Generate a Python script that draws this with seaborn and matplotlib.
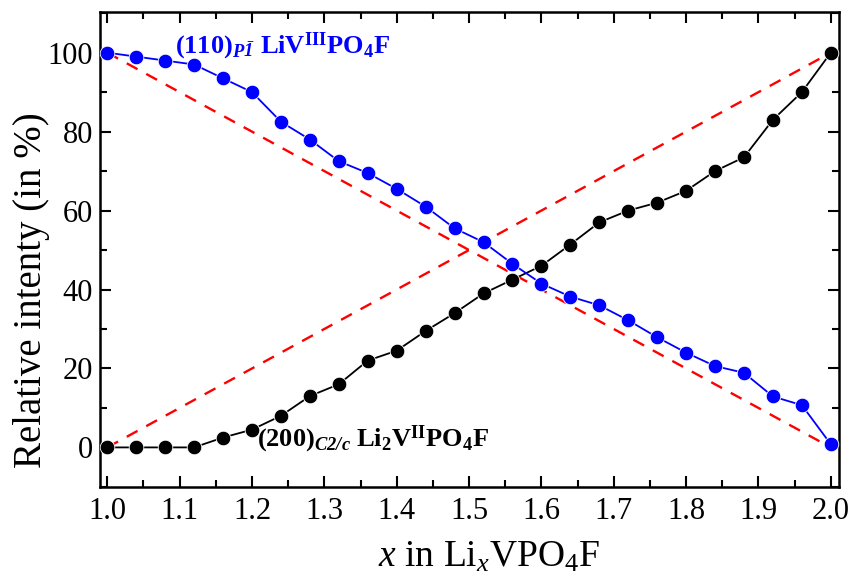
import numpy as np
import pandas as pd
import matplotlib
matplotlib.use("Agg")
import matplotlib.pyplot as plt
import seaborn as sns
from matplotlib.ticker import MultipleLocator

x_vals = [1.00, 1.04, 1.08, 1.12, 1.16, 1.20, 1.24, 1.28, 1.32, 1.36, 1.40, 1.44, 1.48,
          1.52, 1.56, 1.60, 1.64, 1.68, 1.72, 1.76, 1.80, 1.84, 1.88, 1.92, 1.96, 2.00]
p1_intensity = [100, 99, 98, 97, 93.5, 90, 82.5, 78, 72.5, 69.5, 65.5, 61, 55.5,
                52, 46.5, 41.5, 38.2, 36.0, 32.2, 27.9, 24.0, 20.6, 18.9, 12.9, 10.7, 0.8]
c2c_intensity = [0, 0, 0, 0, 2.5, 4.5, 8, 13, 16, 22, 24.5, 29.5, 34,
                 39, 42.5, 46, 51.4, 57, 60, 62, 65, 70, 73.5, 83, 90, 100]
ideal_x = [1.0, 2.0]
ideal_down = [100, 0]
ideal_up = [0, 100]
x_ticks = [1.0, 1.1, 1.2, 1.3, 1.4, 1.5, 1.6, 1.7, 1.8, 1.9, 2.0]
x_tick_labels = ["1.0", "1.1", "1.2", "1.3", "1.4", "1.5", "1.6", "1.7", "1.8", "1.9", "2.0"]

sns.set_theme(style="white")
plt.rcParams['font.family'] = ['Liberation Serif', 'DejaVu Serif']
plt.rcParams['mathtext.fontset'] = 'custom'
plt.rcParams['mathtext.rm'] = 'Liberation Serif'
plt.rcParams['mathtext.it'] = 'Liberation Serif:italic'
plt.rcParams['mathtext.bf'] = 'Liberation Serif:bold'
plt.rcParams['mathtext.bfit'] = 'Liberation Serif:bold:italic'
plt.rcParams['text.color'] = 'black'
plt.rcParams['axes.labelcolor'] = 'black'

df = pd.DataFrame({"x": x_vals, "p1": p1_intensity, "c2c": c2c_intensity})

fig = plt.figure(figsize=(8.55, 5.81), dpi=100)
ax = fig.add_axes([0.117, 0.162, 0.864, 0.818])

sns.lineplot(x=ideal_x, y=ideal_down, ax=ax, color="red", lw=1.7, zorder=1)
sns.lineplot(x=ideal_x, y=ideal_up, ax=ax, color="red", lw=1.7, zorder=1)
for ln in ax.lines[:2]:
    ln.set_linestyle((0, (5.2, 4.2)))

sns.lineplot(data=df, x="x", y="c2c", ax=ax, color="black", lw=1.3, marker="o",
             markersize=10.5, markeredgecolor="white", markeredgewidth=0.6, zorder=3)
sns.lineplot(data=df, x="x", y="p1", ax=ax, color="blue", lw=1.3, marker="o",
             markersize=10.5, markeredgecolor="white", markeredgewidth=0.6, zorder=4)

ax.set_xlim(0.99, 2.011)
ax.set_ylim(-10, 110.4)
ax.set_xticks(x_ticks)
ax.set_xticklabels(x_tick_labels)
ax.xaxis.set_minor_locator(MultipleLocator(0.05))
ax.yaxis.set_major_locator(MultipleLocator(20))
ax.yaxis.set_minor_locator(MultipleLocator(10))

ax.tick_params(which="both", direction="in", top=True, right=True, left=True, bottom=True,
               labelsize=22, width=1.5, colors="black")
ax.tick_params(which="major", length=8)
ax.tick_params(axis="x", which="major", pad=7)
ax.tick_params(axis="y", which="major", pad=5)
ax.tick_params(which="minor", length=5)
for s in ax.spines.values():
    s.set_linewidth(1.8)
    s.set_color("black")

ax.set_xlabel(r"$x$ in Li$_x$VPO$_4$F", fontsize=27)
ax.set_ylabel("Relative intenty (in %)", fontsize=28)
ax.xaxis.set_label_coords(0.526, -0.113, transform=ax.transAxes)
ax.yaxis.set_label_coords(-0.068, 0.415, transform=ax.transAxes)

ax.text(1.093, 101.5, r"$\mathbf{(110)}_{\mathbfit{P\bar{1}}}$ LiV$^{\mathbf{III}}$PO$_{\mathbf{4}}$F",
        color="blue", fontsize=19, fontweight="bold", ha="left", va="center")
ax.text(1.207, 2, r"$\mathbf{(200)}_{\mathbfit{C2/c}}$ Li$_{\mathbf{2}}$V$^{\mathbf{II}}$PO$_{\mathbf{4}}$F",
        color="black", fontsize=19, fontweight="bold", ha="left", va="center")

fig.savefig("out.png", dpi=100)
